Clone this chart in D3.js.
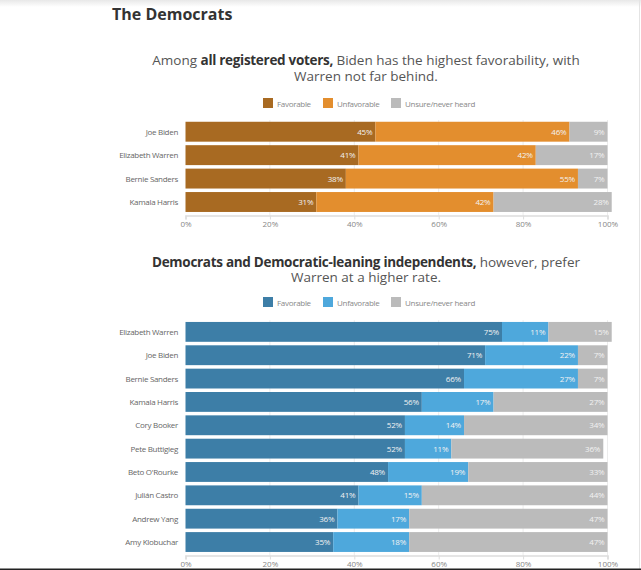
<!DOCTYPE html>
<html><head><meta charset="utf-8">
<script src="https://cdn.jsdelivr.net/npm/d3@7"></script>
<style>
html,body{margin:0;padding:0;background:#fff;}
svg{display:block;}
text{font-family:"Open Sans",Lato,sans-serif;}
</style></head>
<body>
<script>
const seriesNames = ["Favorable", "Unfavorable", "Unsure/never heard"];
const colors1 = ["#a86a22", "#e38e2e", "#bbbbbb"];
const colors2 = ["#3d7ea7", "#4ea8dc", "#bbbbbb"];
const ticks = [0, 20, 40, 60, 80, 100];

const candidates1 = ["Joe Biden", "Elizabeth Warren", "Bernie Sanders", "Kamala Harris"];
const favorable1 = [45, 41, 38, 31];
const unfavorable1 = [46, 42, 55, 42];
const unsure1 = [9, 17, 7, 28];

const candidates2 = ["Elizabeth Warren", "Joe Biden", "Bernie Sanders", "Kamala Harris", "Cory Booker",
  "Pete Buttigieg", "Beto O'Rourke", "Julián Castro", "Andrew Yang", "Amy Klobuchar"];
const favorable2 = [75, 71, 66, 56, 52, 52, 48, 41, 36, 35];
const unfavorable2 = [11, 22, 27, 17, 14, 11, 19, 15, 17, 18];
const unsure2 = [15, 7, 7, 27, 34, 36, 33, 44, 47, 47];

const W = 641, H = 570;
const svg = d3.select("body").append("svg").attr("width", W).attr("height", H);

// top shadow
const defs = svg.append("defs");
const g = defs.append("linearGradient").attr("id", "shadow").attr("x1", 0).attr("x2", 0).attr("y1", 0).attr("y2", 1);
g.append("stop").attr("offset", "0%").attr("stop-color", "#e8e8e8");
g.append("stop").attr("offset", "100%").attr("stop-color", "#ffffff");
svg.append("rect").attr("x", 0).attr("y", 0).attr("width", W).attr("height", 7).attr("fill", "url(#shadow)");
svg.append("line").attr("x1", 639.5).attr("x2", 639.5).attr("y1", 0).attr("y2", H).attr("stroke", "#e4e4e4");

svg.append("text").attr("x", 112).attr("y", 20).attr("font-size", 16).attr("font-weight", "bold")
  .attr("fill", "#333").text("The Democrats");

const x = d3.scaleLinear().domain([0, 100]).range([185.5, 607.5]);

function subtitle(lines, y0, dy) {
  lines.forEach((parts, i) => {
    const t = svg.append("text").attr("x", 366).attr("y", y0 + i * dy).attr("text-anchor", "middle")
      .attr("font-size", 13.5).attr("fill", "#555");
    parts.forEach(p => t.append("tspan").attr("font-weight", p[1] ? "bold" : "normal")
      .attr("letter-spacing", p[1] ? -0.3 : 0)
      .attr("fill", p[1] ? "#333" : "#555").text(p[0]));
  });
}

function legend(y, colors) {
  const xs = [263, 323, 391];
  seriesNames.forEach((n, i) => {
    svg.append("rect").attr("x", xs[i]).attr("y", y).attr("width", 10).attr("height", 10).attr("fill", colors[i]);
    svg.append("text").attr("x", xs[i] + 14).attr("y", y + 8.5).attr("font-size", 8).attr("fill", "#888")
      .attr("letter-spacing", -0.3).text(n);
  });
}

function chart(cands, fav, unf, uns, colors, yTop, step, axisY) {
  const data = cands.map((c, i) => ({ name: c, v: [fav[i], unf[i], uns[i]] }));
  const y = d3.scaleBand().domain(cands).range([yTop, yTop + step * cands.length])
    .paddingInner(0.15).paddingOuter(0.075);
  const gr = svg.append("g");
  // gridlines
  gr.selectAll("line.grid").data(ticks.slice(1)).join("line")
    .attr("x1", d => x(d)).attr("x2", d => x(d))
    .attr("y1", yTop).attr("y2", axisY).attr("stroke", "#ececec");
  // axis
  const ax = svg.append("g").attr("transform", `translate(0,${axisY})`)
    .call(d3.axisBottom(x).tickValues(ticks).tickFormat(d => d + "%").tickSize(4).tickPadding(1.5));
  ax.select(".domain").attr("stroke", "#dddddd").attr("stroke-width", 1.5);
  ax.selectAll(".tick line").attr("stroke", "#dddddd");
  ax.selectAll(".tick text").attr("fill", "#888").attr("font-size", 8).attr("font-family", "Open Sans, sans-serif");
  // bars
  data.forEach(d => {
    let cum = 0;
    d.v.forEach((v, i) => {
      const x0 = x(cum), x1 = x(cum + v);
      gr.append("rect").attr("x", x0).attr("y", y(d.name)).attr("width", x1 - x0)
        .attr("height", y.bandwidth()).attr("fill", colors[i]);
      gr.append("text").attr("x", x1 - 3).attr("y", y(d.name) + y.bandwidth() / 2 + 3)
        .attr("text-anchor", "end").attr("font-size", 8).attr("fill", "#f2f2f2")
        .attr("letter-spacing", -0.2).text(v + "%");
      cum += v;
    });
    gr.append("text").attr("x", 178).attr("y", y(d.name) + y.bandwidth() / 2 + 3)
      .attr("text-anchor", "end").attr("font-size", 8).attr("fill", "#666")
      .attr("letter-spacing", -0.3).text(d.name);
  });
}

subtitle([[["Among ", 0], ["all registered voters,", 1], [" Biden has the highest favorability, with", 0]],
          [["Warren not far behind.", 0]]], 65, 16);
legend(98, colors1);
chart(candidates1, favorable1, unfavorable1, unsure1, colors1, 120, 23.43, 215.5);

subtitle([[["Democrats and Democratic-leaning independents,", 1], [" however, prefer", 0]],
          [["Warren at a higher rate.", 0]]], 266.5, 15.5);
legend(297, colors2);
chart(candidates2, favorable2, unfavorable2, unsure2, colors2, 320.2, 23.35, 555.5);

svg.append("rect").attr("x", 0).attr("y", 568.5).attr("width", W).attr("height", 1.5).attr("fill", "#222");
</script>
</body></html>
